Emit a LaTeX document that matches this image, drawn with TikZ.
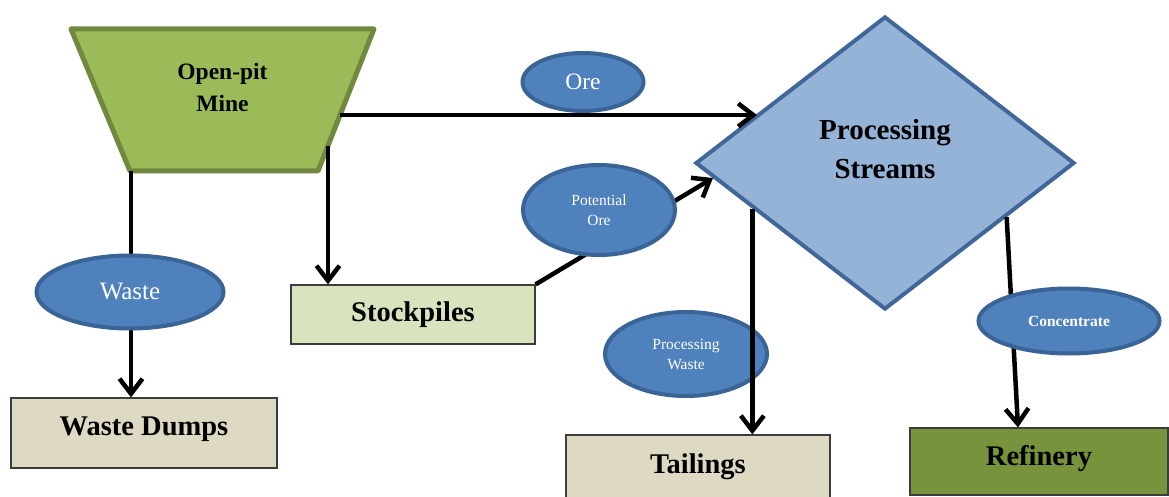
\documentclass[tikz,border=0pt]{standalone}
\usepackage{fontspec}
\setmainfont{Liberation Serif}
\usetikzlibrary{shapes.geometric,arrows.meta}

\definecolor{minefill}{HTML}{9BBB59}
\definecolor{mineline}{HTML}{71893F}
\definecolor{flowfill}{HTML}{4F81BD}
\definecolor{flowline}{HTML}{3A6496}
\definecolor{psfill}{HTML}{95B3D7}
\definecolor{psline}{HTML}{41669A}
\definecolor{tanfill}{HTML}{DDD9C3}
\definecolor{stockfill}{HTML}{D7E4BD}
\definecolor{reffill}{HTML}{77933C}
\definecolor{boxline}{HTML}{3C3C3C}

\tikzset{
  conn/.style={line width=4.5pt, -{Straight Barb[length=15pt,width=23pt]}},
  flow/.style={ellipse, fill=flowfill, draw=flowline, line width=4pt,
    text=white, inner sep=0pt, align=center},
  box/.style={rectangle, draw=boxline, line width=1.2pt, inner sep=0pt,
    font=\fontsize{28.5}{34}\selectfont\bfseries},
  bigtext/.style={align=center, inner sep=0pt}
}

\begin{document}
\begin{tikzpicture}[x=1pt,y=-1pt]
\clip (0,0) rectangle (1169,497);
\fill[white] (0,0) rectangle (1169,497);

% open pit, drawn as an inverted trapezoid
\draw[fill=minefill, draw=mineline, line width=5pt, line join=round]
  (71,29) -- (374,29) -- (318,171) -- (130,171) -- cycle;
\coordinate (mine-e) at (340,115);   % exit towards processing
\coordinate (mine-s) at (328,145.6); % exit towards stockpiles
\coordinate (mine-w) at (131,171);   % exit towards waste dumps
\node[bigtext, font=\fontsize{23.5}{32}\selectfont\bfseries] (mine) at (222.5,87) {Open-pit\\Mine};

% processing
\node[diamond, minimum width=379pt, minimum height=293pt, inner sep=0pt,
      fill=psfill, draw=psline, line width=4pt] (ps) at (885,163) {};
\node[bigtext, font=\fontsize{29}{39}\selectfont\bfseries] (pslbl) at (885,149) {Processing\\Streams};

% destination boxes
\node[box, fill=tanfill, minimum width=266pt, minimum height=70pt, text depth=14pt] (dumps) at (144,433) {Waste Dumps};
\node[box, fill=stockfill, minimum width=244pt, minimum height=59pt] (stock) at (413,314.5) {Stockpiles};
\node[box, fill=tanfill, minimum width=264pt, minimum height=64pt] (tail) at (698,467) {Tailings};
\node[box, fill=reffill, minimum width=258pt, minimum height=67pt, text depth=12pt] (ref) at (1039,461.5) {Refinery};

% flows
\draw[conn] (mine-e) -- (ps.159.9 |- mine-e);
\draw[conn] (mine-s) -- (mine-s |- stock.north);
\draw[conn] (mine-w) -- (mine-w |- dumps.north);
\draw[conn] (stock.north east) -- (ps.185);
\draw[conn] (ps.-24) -- ([xshift=-21pt]ref.north);

% flow labels
\node[flow, minimum width=121pt, minimum height=58pt, font=\fontsize{23.5}{26}\selectfont] (ore) at (583,82) {Ore};
\node[flow, minimum width=187pt, minimum height=73pt, font=\fontsize{25}{28}\selectfont] (waste) at (130,292) {Waste};
\node[flow, minimum width=152pt, minimum height=90pt, font=\fontsize{15.5}{20}\selectfont] (pot) at (599,210) {Potential\\Ore};
\node[flow, minimum width=181pt, minimum height=65pt, font=\fontsize{15.5}{20}\selectfont\bfseries] (conc) at (1069,321) {Concentrate};
\node[flow, minimum width=162pt, minimum height=84pt, font=\fontsize{15.5}{20}\selectfont] (pwaste) at (686,354) {Processing\\Waste};

\draw[conn] (ps.199) -- (ps.199 |- tail.north);
\end{tikzpicture}
\end{document}
